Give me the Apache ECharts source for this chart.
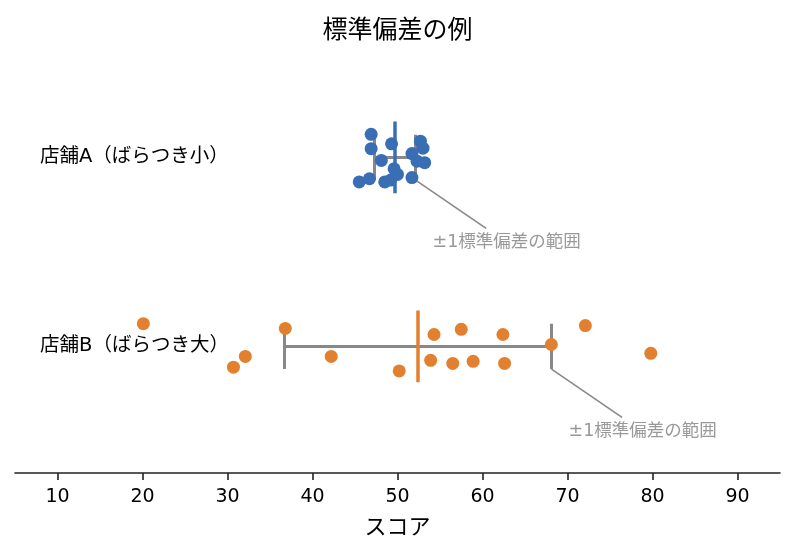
<!DOCTYPE html>
<html>
<head>
<meta charset="utf-8">
<script src="https://cdn.jsdelivr.net/npm/echarts@6/dist/echarts.min.js"></script>
<style>
  html, body { margin: 0; padding: 0; background: #fff; }
  #chart { width: 795px; height: 555px; }
</style>
</head>
<body>
<div id="chart"></div>
<script>
// 店舗ごとのスコア（x）と縦方向のばらし量（y のずれ）
var storeNames = ['店舗B（ばらつき大）', '店舗A（ばらつき小）'];
var scoresA = [46.9, 46.9, 49.3, 48.1, 52.7, 53.0, 51.7, 53.2, 52.3, 45.5, 46.7, 48.5, 49.6, 50.0, 49.2, 51.7];
var jitterA = [0.122, 0.046, 0.072, -0.016, 0.086, 0.049, 0.02, -0.028, -0.02, -0.13, -0.113, -0.13, -0.06, -0.09, -0.12, -0.107];
var scoresB = [20.1, 32.1, 30.7, 36.8, 42.2, 50.2, 54.3, 57.5, 62.4, 53.9, 56.5, 58.9, 62.6, 68.1, 72.1, 79.8];
var jitterB = [0.12, -0.053, -0.11, 0.095, -0.053, -0.13, 0.063, 0.09, 0.063, -0.074, -0.09, -0.079, -0.09, 0.01, 0.11, -0.037];
var xTicks = [10, 20, 30, 40, 50, 60, 70, 80, 90];
var noteText = '±1標準偏差の範囲';

var colorA = '#3a6eb4';
var colorB = '#e2802f';
var gray = '#888888';
var font = 'DejaVu Sans, "Noto Sans CJK JP", sans-serif';

function mean(arr) {
    var s = 0;
    arr.forEach(function (v) { s += v; });
    return s / arr.length;
}
function stdev(arr) {
    var m = mean(arr), s = 0;
    arr.forEach(function (v) { s += (v - m) * (v - m); });
    return Math.sqrt(s / arr.length);
}

var groups = [
    { y: 1, scores: scoresA, jitter: jitterA, color: colorA },
    { y: 0, scores: scoresB, jitter: jitterB, color: colorB }
];

var barLines = [], meanLines = [], noteLines = [], notePoints = [];
var capH = 0.12, meanH = 0.19;
groups.forEach(function (g) {
    var m = mean(g.scores), sd = stdev(g.scores);
    var lo = m - sd, hi = m + sd;
    barLines.push({ coords: [[lo, g.y], [hi, g.y]] });
    barLines.push({ coords: [[lo, g.y - capH], [lo, g.y + capH]] });
    barLines.push({ coords: [[hi, g.y - capH], [hi, g.y + capH]] });
    meanLines.push({ coords: [[m, g.y - meanH], [m, g.y + meanH]], lineStyle: { color: g.color } });
    // 注釈：キャップ下端から文字の中心へ向かう線（文字の手前で止める）
    var tx = hi + 2, ty = g.y - 0.45;
    var cx = tx + 8.7;
    var x0 = hi, y0 = g.y - capH;
    var t = (y0 - (ty + 0.074)) / (y0 - ty);
    noteLines.push({ coords: [[x0, y0], [x0 + t * (cx - x0), y0 + t * (ty - y0)]] });
    notePoints.push([tx, ty]);
});

var myChart = echarts.init(document.getElementById('chart'));
var option = {
    animation: false,
    backgroundColor: '#fff',
    title: {
        text: '標準偏差の例',
        left: 'center',
        top: 14,
        textStyle: { fontFamily: font, fontSize: 25, fontWeight: 'normal', color: '#000' }
    },
    grid: {
        left: 15,
        right: 15,
        top: 44,
        bottom: 82,
        outerBoundsMode: 'none'
    },
    xAxis: {
        type: 'value',
        min: 5,
        max: 95,
        name: 'スコア',
        nameLocation: 'middle',
        nameGap: 44,
        nameTextStyle: { fontFamily: font, fontSize: 22, color: '#000' },
        axisLine: { show: true, onZero: false, lineStyle: { color: '#222', width: 1.6 } },
        axisTick: { show: true, customValues: xTicks, length: 7, lineStyle: { color: '#222', width: 1.6 } },
        axisLabel: { customValues: xTicks, margin: 15, fontFamily: font, fontSize: 19, color: '#000' },
        splitLine: { show: false }
    },
    yAxis: {
        type: 'value',
        min: -0.67,
        max: 1.6,
        axisLine: { show: false },
        axisTick: { show: false },
        splitLine: { show: false },
        axisLabel: {
            inside: true,
            margin: 25,
            customValues: [0, 1],
            formatter: function (v) { return storeNames[Math.round(v)]; },
            fontFamily: font,
            fontSize: 19.5,
            color: '#000'
        }
    },
    series: [
        {
            type: 'lines',
            coordinateSystem: 'cartesian2d',
            z: 1,
            silent: true,
            lineStyle: { color: gray, width: 3, opacity: 1 },
            data: barLines
        },
        {
            type: 'lines',
            coordinateSystem: 'cartesian2d',
            z: 1,
            silent: true,
            lineStyle: { color: gray, width: 1.6, opacity: 1 },
            data: noteLines
        },
        {
            type: 'scatter',
            z: 2,
            symbolSize: 13,
            itemStyle: { color: colorA, opacity: 1 },
            data: scoresA.map(function (v, i) { return [v, 1 + jitterA[i]]; })
        },
        {
            type: 'scatter',
            z: 2,
            symbolSize: 13,
            itemStyle: { color: colorB, opacity: 1 },
            data: scoresB.map(function (v, i) { return [v, jitterB[i]]; })
        },
        {
            type: 'lines',
            coordinateSystem: 'cartesian2d',
            z: 3,
            silent: true,
            lineStyle: { width: 3.5, opacity: 1 },
            data: meanLines
        },
        {
            type: 'scatter',
            z: 3,
            symbolSize: 0,
            silent: true,
            data: notePoints,
            label: {
                show: true,
                position: 'right',
                distance: 0,
                formatter: noteText,
                fontFamily: font,
                fontSize: 17.5,
                color: '#808080'
            }
        }
    ]
};
myChart.setOption(option);
</script>
</body>
</html>
